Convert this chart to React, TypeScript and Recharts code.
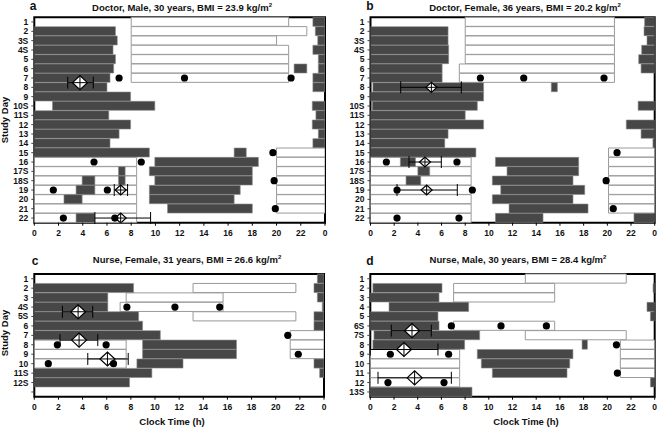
import React from "react";
import { ComposedChart, Bar, Scatter, ErrorBar, XAxis, YAxis, ReferenceArea } from "recharts";

type Seg = [number, number];

// x ticks: clock hours, last one wraps to midnight
const hourTicks = [0, 2, 4, 6, 8, 10, 12, 14, 16, 18, 20, 22, 24];

// ---- a: Doctor, Male ----
const daysA = ["1", "2", "3S", "4S", "5", "6", "7", "8", "9", "10S", "11S", "12", "13", "14", "15", "16", "17S", "18S", "19", "20", "21", "22"];
const sleepA: Seg[][] = [
  [[23.0, 24]],
  [[0, 6.7], [23.2, 24]],
  [[0, 6.85], [23.4, 24]],
  [[0, 6.5], [23.0, 24]],
  [[0, 6.7], [23.45, 24]],
  [[0, 6.55], [21.45, 22.5], [23.45, 24]],
  [[0, 6.25], [23.0, 24]],
  [[0, 6.0], [23.0, 24]],
  [[0, 7.95]],
  [[1.5, 9.95], [22.95, 24]],
  [[0, 6.15], [23.25, 24]],
  [[0, 7.95], [22.95, 24]],
  [[0, 7.0], [23.45, 24]],
  [[0, 6.25], [23.0, 24]],
  [[0, 9.5], [16.5, 17.5]],
  [[9.95, 18.5]],
  [[6.95, 7.5], [9.5, 18.0]],
  [[3.95, 5.0], [6.95, 7.5], [9.95, 18.0]],
  [[3.45, 5.0], [9.5, 17.0]],
  [[2.45, 3.95], [9.5, 16.5]],
  [[11.0, 18.0]],
  [[3.45, 5.0]],
];
const workA: Seg[][] = [
  [[8, 21]],
  [[8, 22.5]],
  [[8, 20.0]],
  [[8, 21]],
  [[8, 21]],
  [[8, 21]],
  [[8, 21]],
  [], [], [], [], [], [], [],
  [[20, 24]],
  [[0, 8.45], [20, 24]],
  [[0, 8.45], [20, 24]],
  [[0, 8.45], [20, 24]],
  [[0, 8.45], [20, 24]],
  [[0, 8.45], [20, 24]],
  [[0, 8.45], [20, 24]],
  [[0, 8.45]],
];
// [row index, clock hour]
const mealsA: [number, number][] = [
  [6, 7.0], [6, 12.4], [6, 21.2], [14, 19.7], [15, 4.93], [15, 8.83],
  [17, 19.8], [18, 1.57], [18, 6.03], [20, 19.9], [21, 2.4], [21, 6.65],
];
// [row position, mean hour, low, high]
const marksA: [number, number, number, number][] = [
  [6.5, 3.77, 2.76, 4.87],
  [18, 7.13, 6.6, 7.7],
  [21, 7.13, 5.0, 9.6],
];

// ---- b: Doctor, Female ----
const daysB = ["1", "2", "3S", "4S", "5", "6", "7", "8", "9", "10S", "11S", "12", "13", "14", "15", "16", "17S", "18S", "19", "20", "21", "22"];
const sleepB: Seg[][] = [
  [[23.15, 24]],
  [[0, 6.55], [23.1, 24]],
  [[0, 6.55], [23.35, 24]],
  [[0, 6.6], [22.9, 24]],
  [[0, 6.6], [22.65, 24]],
  [[0, 6.05], [22.85, 24]],
  [[0, 6.05]],
  [[0.2, 9.55], [15.27, 15.78]],
  [[0, 9.55]],
  [[0.15, 9.02], [22.6, 24]],
  [[0, 8.0]],
  [[0, 9.55], [21.6, 24]],
  [[0, 6.55], [22.85, 24]],
  [[0, 6.27], [23.85, 24]],
  [[0, 8.9]],
  [[2.52, 3.8], [10.55, 17.58]],
  [[4.0, 5.0], [11.53, 17.58]],
  [[3.0, 4.24], [10.29, 17.1]],
  [[11.0, 18.09]],
  [[10.29, 17.1]],
  [[11.7, 18.37]],
  [[10.55, 14.57], [22.25, 24]],
];
const workB: Seg[][] = [
  [[8, 20.6]],
  [[8, 20.6]],
  [[8, 20.6]],
  [[8, 20.6]],
  [[8, 20.6]],
  [[7.5, 20.6]],
  [[7.5, 20.6]],
  [], [], [], [], [], [], [],
  [[20.1, 24]],
  [[0, 8.5], [20.1, 24]],
  [[0, 8.5], [20.1, 24]],
  [[0, 8.5], [20.1, 24]],
  [[0, 8.5], [20.1, 24]],
  [[0, 8.5], [20.1, 24]],
  [[0, 8.5], [20.1, 24]],
  [[0, 8.5]],
];
const mealsB: [number, number][] = [
  [6, 9.28], [6, 12.94], [6, 19.72], [14, 20.82], [15, 1.34], [15, 7.3],
  [17, 19.9], [18, 2.24], [18, 8.6], [20, 20.5], [21, 2.24], [21, 7.47],
];
const marksB: [number, number, number, number][] = [
  [7, 5.14, 2.55, 7.67],
  [15, 4.6, 3.25, 5.98],
  [18, 4.74, 2.24, 7.33],
];

// ---- c: Nurse, Female ----
const daysC = ["1", "2", "3", "4S", "5S", "6", "7", "8", "9", "10", "11S", "12S", ""];
const sleepC: Seg[][] = [
  [[23.45, 24]],
  [[0, 8.22], [23.17, 24]],
  [[0, 6.09], [23.45, 24]],
  [[0, 6.09], [23.86, 24]],
  [[0, 8.64], [23.17, 24]],
  [[0, 8.97], [23.17, 24]],
  [[0, 10.44]],
  [[8.97, 16.75]],
  [[8.97, 16.75]],
  [[8.5, 12.32], [23.17, 24]],
  [[0, 9.74], [23.64, 24]],
  [[0, 7.89]],
  [],
];
const workC: Seg[][] = [
  [],
  [[13.15, 21.67]],
  [[7.61, 15.64]],
  [[7.11, 15.64]],
  [[13.15, 21.67]],
  [],
  [[21.2, 24]],
  [[0, 7.61], [21.2, 24]],
  [[0, 7.61], [21.2, 24]],
  [[0, 7.61]],
  [], [], [],
];
const mealsC: [number, number][] = [
  [3, 7.67], [3, 11.65], [3, 15.36], [6, 21.0], [7, 1.91], [7, 5.95],
  [8, 21.87], [9, 1.16], [9, 6.56],
];
const marksC: [number, number, number, number][] = [
  [3.5, 3.63, 2.33, 4.84],
  [6.5, 3.71, 2.13, 5.26],
  [8.5, 6.06, 4.43, 7.78],
];

// ---- d: Nurse, Male ----
const daysD = ["1", "2", "3", "4", "5", "6S", "7S", "8", "9", "10", "11", "12", "13S"];
const sleepD: Seg[][] = [
  [],
  [[0.22, 6.05], [23.86, 24]],
  [[0, 5.8]],
  [[1.58, 8.3], [23.35, 24]],
  [[0, 5.71], [23.64, 24]],
  [[0, 5.8]],
  [[0.31, 9.23]],
  [[0.22, 7.96], [17.87, 18.32]],
  [[9.03, 17.1]],
  [[9.37, 16.83]],
  [[10.3, 16.6]],
  [[23.64, 24]],
  [[0, 8.58]],
];
const workD: Seg[][] = [
  [[13.08, 21.6]],
  [[7.03, 15.56]],
  [[7.03, 15.56]],
  [],
  [],
  [[7.03, 15.56]],
  [[13.08, 21.6]],
  [[21.1, 24]],
  [[0, 7.54], [21.1, 24]],
  [[0, 7.54], [21.1, 24]],
  [[0, 7.54], [21.1, 24]],
  [[0, 7.54]],
  [],
];
const mealsD: [number, number][] = [
  [5, 6.84], [5, 11.03], [5, 14.86], [7, 20.77], [8, 1.69], [8, 6.61],
  [10, 20.85], [11, 1.49], [11, 6.22],
];
const marksD: [number, number, number, number][] = [
  [5.5, 3.52, 1.77, 5.15],
  [7.5, 2.84, 0, 5.71],
  [10.5, 3.74, 0.65, 6.84],
];

const FONT = "'Liberation Sans', Arial, sans-serif";
const workKeys = ["w0", "w1"];
const sleepKeys = ["s0", "s1", "s2"];

function buildRows(days: string[], sleep: Seg[][], work: Seg[][]) {
  return days.map((day, i) => {
    const row: any = { day };
    (work[i] || []).forEach((s, j) => (row["w" + j] = s));
    (sleep[i] || []).forEach((s, j) => (row["s" + j] = s));
    return row;
  });
}

const Dot = (p: any) => <circle cx={p.cx} cy={p.cy} r={3.6} fill="#000" />;

const Diamond = (p: any) => {
  const big = !Number.isInteger(p.payload.y);
  const hw = big ? 7.5 : 5.5;
  const hh = big ? 7 : 5;
  const { cx, cy } = p;
  return (
    <g>
      <polygon
        points={`${cx - hw},${cy} ${cx},${cy - hh} ${cx + hw},${cy} ${cx},${cy + hh}`}
        fill="#fff"
        stroke="#000"
        strokeWidth={1.2}
      />
      <line x1={cx - hw} y1={cy} x2={cx + hw} y2={cy} stroke="#000" strokeWidth={1} />
      <line x1={cx} y1={cy - hh} x2={cx} y2={cy + hh} stroke="#000" strokeWidth={1} />
    </g>
  );
};

interface PanelProps {
  box: { left: number; top: number; w: number; h: number };
  plot: { x0: number; x1: number; y0: number; y1: number };
  days: string[];
  sleep: Seg[][];
  work: Seg[][];
  meals: [number, number][];
  marks: [number, number, number, number][];
}

function Panel({ box, plot, days, sleep, work, meals, marks }: PanelProps) {
  const n = days.length;
  const rowH = (plot.y1 - plot.y0) / n;
  const bs = rowH - 0.3;
  const rows = buildRows(days, sleep, work);
  const mealPts = meals.map(([r, h]) => ({ x: h, y: r }));
  const markPts = marks.map(([r, h, lo, hi]) => ({ x: h, y: r, err: [h - lo, hi - h] }));
  const YW = 30;
  const XH = 20;
  const margin = {
    top: plot.y0 - box.top,
    bottom: box.top + box.h - plot.y1 - XH,
    left: plot.x0 - box.left - YW,
    right: box.left + box.w - plot.x1,
  };
  const tick = { fontSize: 8.5, fontWeight: 700, fill: "#111", fontFamily: FONT };
  return (
    <div style={{ position: "absolute", left: box.left, top: box.top }}>
      <ComposedChart
        layout="vertical"
        width={box.w}
        height={box.h}
        data={rows}
        margin={margin}
        barSize={bs}
        barGap={-bs}
        barCategoryGap={0}
      >
        <XAxis
          type="number"
          domain={[0, 24]}
          ticks={hourTicks}
          interval={0}
          allowDataOverflow
          tickFormatter={(v: number) => (v === 24 ? "0" : String(v))}
          height={XH}
          axisLine={false}
          tickLine={{ stroke: "#000" }}
          tickSize={3}
          tickMargin={4}
          tick={tick}
        />
        <YAxis
          type="category"
          dataKey="day"
          width={YW}
          interval={0}
          axisLine={false}
          tickLine={{ stroke: "#444" }}
          tickSize={3}
          tickMargin={3}
          tick={tick}
        />
        <XAxis xAxisId="sx" type="number" dataKey="x" domain={[0, 24]} allowDataOverflow hide />
        <YAxis yAxisId="sy" type="number" dataKey="y" domain={[-0.5, n - 0.5]} allowDataOverflow hide />
        {workKeys.map((k) => (
          <Bar key={k} dataKey={k} barSize={bs} fill="#ffffff" stroke="#9a9a9a" strokeWidth={1} isAnimationActive={false} />
        ))}
        {sleepKeys.map((k) => (
          <Bar key={k} dataKey={k} barSize={bs} fill="#474747" stroke="#8a8a8a" strokeWidth={0.6} isAnimationActive={false} />
        ))}
        <Scatter xAxisId="sx" yAxisId="sy" data={markPts} dataKey="x" shape={Diamond} isAnimationActive={false}>
          <ErrorBar dataKey="err" direction="x" width={6} stroke="#000" strokeWidth={1} />
        </Scatter>
        <Scatter xAxisId="sx" yAxisId="sy" data={mealPts} dataKey="x" shape={Dot} isAnimationActive={false} />
        <ReferenceArea
          xAxisId="sx"
          yAxisId="sy"
          x1={0}
          x2={24}
          y1={-0.5}
          y2={n - 0.5}
          fill="none"
          fillOpacity={0}
          stroke="#000"
          strokeWidth={2}
          ifOverflow="visible"
        />
      </ComposedChart>
    </div>
  );
}

const txt = (x: number, y: number, size: number, extra?: React.CSSProperties): React.CSSProperties => ({
  position: "absolute",
  left: x,
  top: y,
  transform: "translate(-50%, -50%)",
  fontSize: size,
  fontWeight: 700,
  lineHeight: 1,
  whiteSpace: "nowrap",
  color: "#111",
  ...extra,
});

const Sup = () => <sup style={{ fontSize: 6, lineHeight: 0 }}>2</sup>;

export default function App() {
  return (
    <div style={{ position: "absolute", left: 0, top: 0, width: 658, height: 430, background: "#fff", fontFamily: FONT }}>
      <Panel
        box={{ left: 0, top: 0, w: 329, h: 250 }}
        plot={{ x0: 34.3, x1: 325, y0: 17.3, y1: 222.7 }}
        days={daysA}
        sleep={sleepA}
        work={workA}
        meals={mealsA}
        marks={marksA}
      />
      <Panel
        box={{ left: 329, top: 0, w: 329, h: 250 }}
        plot={{ x0: 370.5, x1: 654.7, y0: 17.3, y1: 222.7 }}
        days={daysB}
        sleep={sleepB}
        work={workB}
        meals={mealsB}
        marks={marksB}
      />
      <Panel
        box={{ left: 0, top: 250, w: 329, h: 180 }}
        plot={{ x0: 34.3, x1: 324, y0: 274, y1: 396.7 }}
        days={daysC}
        sleep={sleepC}
        work={workC}
        meals={mealsC}
        marks={marksC}
      />
      <Panel
        box={{ left: 329, top: 250, w: 329, h: 180 }}
        plot={{ x0: 370.3, x1: 654.7, y0: 274, y1: 396.7 }}
        days={daysD}
        sleep={sleepD}
        work={workD}
        meals={mealsD}
        marks={marksD}
      />

      <div style={txt(33, 6, 12)}>a</div>
      <div style={txt(370, 6, 12)}>b</div>
      <div style={txt(35, 261, 12)}>c</div>
      <div style={txt(370, 261, 12)}>d</div>

      <div style={txt(182, 8, 9.5)}>Doctor, Male, 30 years, BMI = 23.9 kg/m<Sup /></div>
      <div style={txt(525, 8, 9.5)}>Doctor, Female, 36 years, BMI = 20.2 kg/m<Sup /></div>
      <div style={txt(187, 260, 9.5)}>Nurse, Female, 31 years, BMI = 26.6 kg/m<Sup /></div>
      <div style={txt(518, 260, 9.5)}>Nurse, Male, 30 years, BMI = 28.4 kg/m<Sup /></div>

      <div style={txt(5, 120, 9.5, { transform: "translate(-50%, -50%) rotate(-90deg)" })}>Study Day</div>
      <div style={txt(5, 333, 9.5, { transform: "translate(-50%, -50%) rotate(-90deg)" })}>Study Day</div>
      <div style={txt(172, 422, 9.5)}>Clock Time (h)</div>
      <div style={txt(526, 422, 9.5)}>Clock Time (h)</div>
    </div>
  );
}
